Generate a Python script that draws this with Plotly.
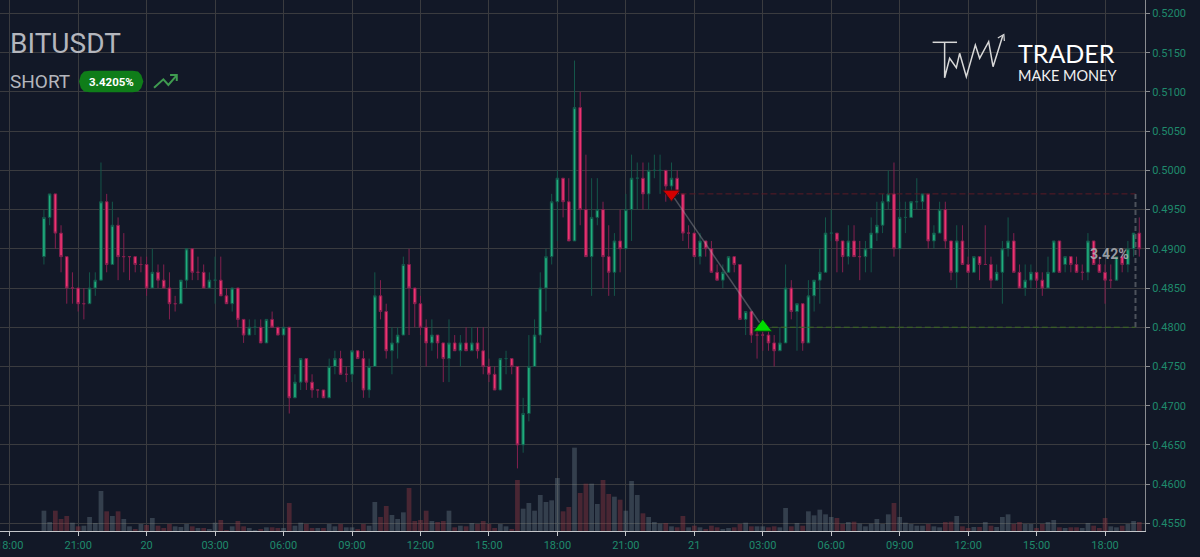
import pandas as pd
import plotly.graph_objects as go

W, H = 1200, 557
PLOT_W, PLOT_H = 1144.6, 531

# 15 minute candles
times = pd.date_range("2022-07-19 19:30", periods=193, freq="15min")

opens = [
    .489, .494, .497, .492, .489, .485, .485, .483, .483, .485,
    .486, .496, .488, .493, .489, .489, .489, .488, .488, .485,
    .487, .486, .485, .483, .483, .486, .490, .487, .487, .485,
    .486, .486, .484, .483, .485, .481, .479, .480, .480, .478,
    .481, .480, .479, .480, .471, .473, .476, .473, .472, .472,
    .471, .475, .476, .474, .474, .477, .476, .472, .475, .484,
    .482, .477, .478, .479, .488, .485, .483, .480, .478, .479,
    .478, .476, .478, .477, .478, .477, .478, .477, .475, .474,
    .472, .476, .476, .475, .465, .469, .475, .479, .485, .489,
    .496, .499, .496, .491, .508, .495, .489, .494, .495, .489,
    .487, .491, .490, .495, .499, .499, .497, .500, .500, .500,
    .498, .499, .497, .492, .492, .489, .491, .490, .487, .486,
    .487, .489, .488, .481, .482, .479, .479, .479, .478, .477,
    .478, .485, .482, .483, .478, .484, .486, .487, .492, .492,
    .491, .489, .491, .489, .489, .490, .492, .493, .496, .497,
    .490, .494, .494, .496, .496, .497, .491, .492, .495, .491,
    .487, .491, .488, .487, .489, .488, .488, .486, .487, .490,
    .491, .487, .485, .486, .487, .486, .485, .487, .491, .488,
    .489, .488, .487, .487, .491, .488, .487, .486, .486, .489,
    .488, .490, .492,
]
highs = [
    .495, .497, .497, .493, .489, .487, .485, .485, .487, .487,
    .501, .497, .496, .494, .492, .489, .489, .489, .489, .490,
    .488, .488, .487, .484, .486, .490, .490, .489, .488, .487,
    .489, .489, .485, .485, .485, .481, .481, .481, .481, .481,
    .482, .480, .480, .480, .474, .476, .476, .474, .472, .472,
    .476, .477, .477, .475, .477, .477, .477, .476, .487, .486,
    .483, .480, .480, .489, .490, .485, .484, .481, .481, .479,
    .478, .481, .479, .479, .480, .480, .480, .480, .476, .475,
    .476, .477, .476, .475, .471, .479, .481, .487, .490, .497,
    .500, .499, .499, .514, .510, .502, .499, .499, .496, .493,
    .492, .495, .497, .502, .501, .501, .501, .502, .502, .500,
    .501, .500, .497, .493, .492, .492, .491, .491, .488, .488,
    .489, .489, .488, .482, .482, .480, .480, .480, .479, .480,
    .488, .486, .483, .483, .486, .486, .490, .494, .495, .492,
    .491, .493, .493, .491, .491, .494, .496, .497, .500, .501,
    .496, .496, .496, .499, .497, .497, .493, .496, .496, .491,
    .493, .493, .489, .489, .489, .493, .489, .488, .491, .494,
    .492, .488, .488, .488, .487, .487, .489, .491, .491, .489,
    .489, .489, .488, .492, .491, .489, .488, .488, .489, .490,
    .491, .492, .494,
]
lows = [
    .488, .493, .490, .487, .483, .483, .482, .481, .483, .484,
    .486, .487, .488, .486, .487, .486, .487, .487, .484, .485,
    .485, .485, .481, .482, .483, .485, .486, .486, .485, .485,
    .483, .484, .483, .482, .480, .478, .479, .479, .478, .478,
    .480, .479, .479, .469, .471, .472, .472, .471, .471, .471,
    .471, .474, .474, .473, .473, .476, .471, .471, .475, .481,
    .476, .474, .476, .479, .479, .480, .479, .475, .477, .476,
    .473, .473, .477, .475, .477, .477, .476, .474, .473, .472,
    .472, .474, .474, .462, .464, .468, .475, .478, .482, .488,
    .491, .494, .491, .491, .493, .489, .484, .493, .485, .484,
    .484, .487, .490, .491, .495, .495, .495, .499, .497, .496,
    .497, .497, .491, .490, .489, .488, .489, .487, .486, .485,
    .487, .487, .481, .479, .478, .476, .477, .477, .475, .477,
    .478, .481, .477, .477, .478, .482, .483, .487, .491, .487,
    .487, .488, .489, .486, .487, .487, .491, .492, .495, .489,
    .490, .492, .494, .495, .495, .490, .490, .492, .490, .486,
    .485, .488, .487, .487, .486, .488, .485, .486, .483, .489,
    .487, .485, .484, .485, .485, .484, .485, .487, .487, .487,
    .487, .487, .486, .486, .488, .487, .483, .485, .486, .487,
    .487, .489, .489,
]
closes = [
    .494, .497, .492, .489, .485, .485, .483, .483, .485, .486,
    .496, .488, .493, .489, .489, .489, .488, .488, .485, .487,
    .486, .485, .483, .483, .486, .490, .487, .487, .485, .486,
    .486, .484, .483, .485, .481, .479, .480, .480, .478, .481,
    .480, .479, .480, .471, .473, .476, .473, .472, .472, .471,
    .475, .476, .474, .474, .477, .476, .472, .475, .484, .482,
    .477, .478, .479, .488, .485, .483, .480, .478, .479, .478,
    .476, .478, .477, .478, .477, .478, .477, .475, .474, .472,
    .476, .476, .475, .465, .469, .475, .479, .485, .489, .496,
    .499, .496, .491, .508, .495, .489, .494, .495, .489, .487,
    .491, .490, .495, .499, .499, .497, .500, .500, .500, .498,
    .499, .497, .492, .492, .489, .491, .490, .487, .486, .487,
    .489, .488, .481, .482, .479, .479, .479, .478, .477, .478,
    .485, .482, .483, .478, .484, .486, .487, .492, .492, .491,
    .489, .491, .489, .489, .490, .492, .493, .496, .497, .490,
    .494, .494, .496, .496, .497, .491, .492, .495, .491, .487,
    .491, .488, .487, .489, .488, .488, .486, .487, .490, .491,
    .487, .485, .486, .487, .486, .485, .487, .491, .487, .489,
    .488, .487, .487, .491, .488, .487, .486, .486, .489, .488,
    .490, .492, .490,
]
volumes = [
    61, 27, 61, 36, 45, 25, 14, 16, 42, 24,
    120, 59, 45, 59, 36, 14, 6, 21, 18, 39,
    16, 9, 21, 14, 12, 21, 14, 9, 9, 6,
    25, 33, 3, 14, 30, 14, 9, 3, 6, 11,
    11, 9, 9, 84, 16, 25, 21, 9, 9, 9,
    21, 14, 21, 11, 11, 6, 21, 16, 87, 42,
    75, 48, 36, 56, 129, 30, 33, 61, 30, 27,
    30, 61, 11, 16, 14, 24, 21, 30, 21, 9,
    21, 14, 6, 153, 67, 84, 61, 108, 87, 92,
    159, 59, 72, 250, 114, 142, 142, 81, 153, 111,
    103, 94, 61, 150, 108, 53, 42, 27, 22, 24,
    14, 11, 45, 11, 16, 11, 6, 16, 11, 6,
    9, 11, 21, 25, 14, 14, 14, 11, 14, 11,
    69, 14, 24, 16, 59, 47, 64, 50, 42, 39,
    21, 27, 28, 22, 14, 22, 36, 21, 50, 84,
    42, 25, 21, 16, 16, 21, 14, 11, 27, 28,
    45, 14, 9, 12, 12, 27, 16, 12, 42, 50,
    21, 27, 21, 21, 9, 21, 27, 33, 11, 9,
    11, 11, 9, 24, 16, 9, 39, 14, 11, 16,
    21, 30, 27,
]

# Trade
trade_times = ["2022-07-20 23:00", "2022-07-21 03:00"]
trade_prices = [0.497, 0.480]
box_end = "2022-07-21 19:20"

tick_times = pd.date_range("2022-07-19 18:00", periods=17, freq="3h")
tick_labels = ["18:00", "21:00", "20", "03:00", "06:00", "09:00", "12:00", "15:00", "18:00",
               "21:00", "21", "03:00", "06:00", "09:00", "12:00", "15:00", "18:00"]
price_ticks = [0.455, 0.46, 0.465, 0.47, 0.475, 0.48, 0.485, 0.49, 0.495,
               0.5, 0.505, 0.51, 0.515, 0.52]

BG = "#121827"
GRID = "#3a3b3f"
TICK = "#1f8a6c"


def path(points, close=False):
    # pixel positions of the page to a paper path
    parts = []
    for i, (px, py) in enumerate(points):
        parts.append(("M" if i == 0 else "L") + f"{px / PLOT_W:.5f},{1 - py / PLOT_H:.5f}")
    return " ".join(parts) + (" Z" if close else "")


def label(text, px, py, size, color, font="Roboto", anchor="left"):
    return dict(text=text, x=px / PLOT_W, y=1 - py / PLOT_H, xref="paper", yref="paper",
                showarrow=False, xanchor=anchor, yanchor="middle",
                font=dict(family=font, size=size, color=color))


fig = go.Figure()

# Up and down candles apart, so a flat candle stays green
up = [i for i in range(len(times)) if closes[i] >= opens[i]]
down = [i for i in range(len(times)) if closes[i] < opens[i]]
for idx in (up, down):
    fig.add_trace(go.Candlestick(
        x=times[idx],
        open=[opens[i] for i in idx],
        high=[highs[i] for i in idx],
        low=[lows[i] for i in idx],
        close=[closes[i] for i in idx],
        increasing=dict(line=dict(color="#14564a", width=1), fillcolor="#1fae7d"),
        decreasing=dict(line=dict(color="#84204f", width=1), fillcolor="#ee3370"),
        whiskerwidth=0,
    ))

# Volume
vol_colors = ["rgba(150,60,70,0.42)" if c < o else "rgba(125,145,160,0.32)"
              for o, c in zip(opens, closes)]
fig.add_trace(go.Bar(x=times, y=volumes, marker=dict(color=vol_colors, line_width=0), yaxis="y2"))

# Trade lines
fig.add_trace(go.Scatter(x=[trade_times[0], box_end], y=[trade_prices[0]] * 2, mode="lines",
                         line=dict(color="#5c1a26", width=1, dash="6px,3px")))
fig.add_trace(go.Scatter(x=[trade_times[1], box_end], y=[trade_prices[1]] * 2, mode="lines",
                         line=dict(color="#3c6a20", width=1, dash="6px,3px")))
fig.add_trace(go.Scatter(x=[box_end, box_end], y=trade_prices, mode="lines",
                         line=dict(color="#4d525c", width=2, dash="5px,3px")))
fig.add_trace(go.Scatter(x=trade_times, y=trade_prices, mode="lines",
                         line=dict(color="rgba(170,170,175,0.38)", width=1.5)))
fig.add_trace(go.Scatter(x=trade_times[:1], y=trade_prices[:1], mode="markers",
                         marker=dict(symbol="triangle-down", size=15, color="#d40000",
                                     line=dict(color="#3a1018", width=1))))
fig.add_trace(go.Scatter(x=trade_times[1:], y=trade_prices[1:], mode="markers",
                         marker=dict(symbol="triangle-up", size=16, color="#00dc00",
                                     line=dict(color="#0c3a14", width=1))))

shapes = [
    # Green pill
    dict(type="path", xref="paper", yref="paper", fillcolor="#0f7d19", line_width=0,
         path=path([(79 + 10.8, 70.7), (143.3 - 10.8, 70.7), (138, 71.6), (141.2, 75), (143.3, 81.5),
                    (141.2, 88), (138, 91.4), (132.5, 92.3), (89.8, 92.3), (84, 91.4), (80.8, 88),
                    (79, 81.5), (80.8, 75), (84, 71.6)], close=True)),
    # Trend icon
    dict(type="path", xref="paper", yref="paper", line=dict(color="#3f9b50", width=2),
         path=path([(154, 87.7), (163.3, 79.3), (168.3, 85), (176.4, 75.6)])),
    dict(type="path", xref="paper", yref="paper", line=dict(color="#3f9b50", width=2),
         path=path([(170, 75), (176.7, 75), (176.7, 81)])),
    # Logo
    dict(type="path", xref="paper", yref="paper", line=dict(color="#d8d8d8", width=1.5),
         path=path([(932.3, 42.3), (956.7, 42.3)])),
    dict(type="path", xref="paper", yref="paper", line=dict(color="#d8d8d8", width=1.5),
         path=path([(944.3, 42.3), (944.3, 77.7), (949.3, 58.3), (956, 67.7), (959.3, 53.3), (966, 76.7),
                    (975, 45), (979.3, 58.3), (988.3, 41.7), (992.7, 66.7), (1002.5, 35.5)])),
    dict(type="path", xref="paper", yref="paper", line=dict(color="#d8d8d8", width=1.2),
         path=path([(997.5, 38), (1003.5, 34.5), (1004, 41)])),
]

annotations = [
    label("BITUSDT", 8, 44, 28, "#b4b6bd"),
    label("SHORT", 7.5, 81.5, 19, "#b4b6bd"),
    label("<b>3.4205%</b>", 111, 81.7, 11.5, "#ffffff", anchor="center"),
    label("TRADER", 1016, 53, 25, "#ffffff", font="Lato"),
    label("MAKE MONEY", 1016, 75, 14.5, "#f0f0f0", font="Lato"),
    # first tick sits on the page edge, plotly drops its label
    label("18:00", 9.7, 545, 11, TICK, anchor="center"),
    dict(text="<b>3.42%</b>", x=box_end, y=0.4893, xref="x", yref="y", showarrow=False,
         xanchor="right", yanchor="middle", xshift=-4,
         font=dict(family="Roboto", size=14, color="rgba(175,180,186,0.85)")),
]

fig.update_layout(
    width=W, height=H,
    margin=dict(l=0, r=W - PLOT_W, t=0, b=H - PLOT_H, autoexpand=False),
    paper_bgcolor=BG, plot_bgcolor=BG,
    showlegend=False, hovermode=False,
    bargap=0.17, boxgap=0.34,
    shapes=shapes, annotations=annotations,
    xaxis=dict(
        range=["2022-07-19 17:34:30", "2022-07-21 19:45"], rangeslider=dict(visible=False),
        tickmode="array", tickvals=tick_times, ticktext=tick_labels,
        tickfont=dict(family="Roboto", size=11, color=TICK), ticks="outside", ticklen=4,
        tickcolor="#c4c6ca", showgrid=True, gridcolor=GRID, gridwidth=1,
        showline=True, linecolor="#c4c6ca", linewidth=1, zeroline=False,
    ),
    yaxis=dict(
        side="right", range=[0.45402, 0.52172], tickmode="array", tickvals=price_ticks,
        tickformat=".4f", tickfont=dict(family="Roboto", size=11, color=TICK),
        ticks="outside", ticklen=4, tickcolor="#8a8c90", showgrid=True, gridcolor=GRID,
        gridwidth=1, showline=True, linecolor="#8a8c90", linewidth=1, zeroline=False,
    ),
    yaxis2=dict(overlaying="y", range=[0, 1593], visible=False),
)

fig.write_html("out.html", config=dict(displayModeBar=False),
               post_script="document.body.style.margin='0'")
